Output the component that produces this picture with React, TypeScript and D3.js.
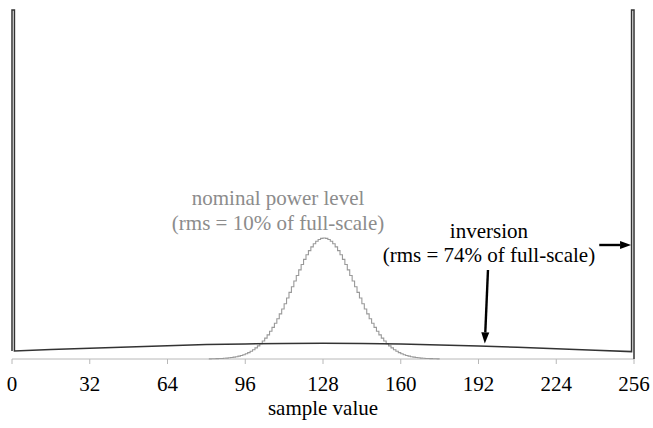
import React from "react";
import * as d3 from "d3";

// ---- data ----
const xTicks = [0, 32, 64, 96, 128, 160, 192, 224, 256];

// nominal power level histogram (rms = 10% of full-scale), bins 81..175
const nominalStart = 81;
const nominalCounts = [
  0.14, 0.19, 0.25, 0.33, 0.43, 0.55, 0.71, 0.91, 1.2, 1.5,
  1.9, 2.3, 2.9, 3.5, 4.3, 5.3, 6.4, 7.8, 9.3, 11.1,
  13.1, 15.4, 18.0, 20.9, 24.1, 27.7, 31.6, 35.8, 40.3, 45.1,
  50.0, 55.3, 61.0, 66.6, 72.2, 78.0, 83.5, 89.1, 94.5, 99.6,
  104.2, 108.4, 112.1, 115.2, 117.7, 119.5, 120.6, 121.0,
  120.6, 119.5, 117.7, 115.2, 112.1, 108.4, 104.2, 99.6, 94.5, 89.1,
  83.5, 78.0, 72.2, 66.6, 61.0, 55.3, 50.0, 45.1, 40.3, 35.8,
  31.6, 27.7, 24.1, 20.9, 18.0, 15.4, 13.1, 11.1, 9.3, 7.8,
  6.4, 5.3, 4.3, 3.5, 2.9, 2.3, 1.9, 1.5, 1.2, 0.91,
  0.71, 0.55, 0.43, 0.33, 0.25, 0.19, 0.14,
];

// inversion (rms = 74% of full-scale): broad body + clipped spikes at the ends
const inversionSamples = [1, 16, 32, 48, 64, 80, 96, 112, 128, 144, 160, 176, 192, 208, 224, 240, 255];
const inversionCounts = [8.0, 9.4, 10.8, 12.1, 13.3, 14.4, 15.1, 15.6, 15.8, 15.6, 15.0, 14.1, 13.0, 11.8, 10.2, 8.7, 7.4];
const spikeCount = 349;

const labelNominal = ["nominal power level", "(rms = 10% of full-scale)"];
const labelInversion = ["inversion", "(rms = 74% of full-scale)"];
const xAxisTitle = "sample value";

const FONT = "'Liberation Serif', 'Times New Roman', 'DejaVu Serif', serif";

export default function App() {
  const W = 653, H = 428;
  const x = d3.scaleLinear().domain([0, 256]).range([12, 634]);
  const y = d3.scaleLinear().domain([0, 349]).range([359, 10]);

  const nomPts: [number, number][] = nominalCounts.map((c, i) => [nominalStart + i, c]);
  nomPts.push([nominalStart + nominalCounts.length, nominalCounts[nominalCounts.length - 1]]);
  const nomLine = d3
    .line<[number, number]>()
    .x((d) => x(d[0]))
    .y((d) => y(d[1]))
    .curve(d3.curveStepAfter);

  const invPts: [number, number][] = [
    [0, inversionCounts[0]],
    [0, spikeCount],
    [1, spikeCount],
    ...inversionSamples.map((s, i) => [s, inversionCounts[i]] as [number, number]),
    [255, spikeCount],
    [256, spikeCount],
    [256, 0],
  ];
  const invLine = d3
    .line<[number, number]>()
    .x((d) => x(d[0]))
    .y((d) => y(d[1]));

  const arrows = [
    { from: [195.9, 89], to: [194.6, 15.6] },
    { from: [241.7, 114], to: [254.8, 114] },
  ];

  const arrowEls = arrows.map((a, i) => {
    const x1 = x(a.from[0]), y1 = y(a.from[1]);
    const x2 = x(a.to[0]), y2 = y(a.to[1]);
    const ang = Math.atan2(y2 - y1, x2 - x1);
    const L = 11, hw = 4;
    const bx = x2 - L * Math.cos(ang), by = y2 - L * Math.sin(ang);
    const px = -Math.sin(ang) * hw, py = Math.cos(ang) * hw;
    return (
      <g key={i}>
        <line x1={x1} y1={y1} x2={bx} y2={by} stroke="#000" strokeWidth={2.4} />
        <polygon
          points={`${x2},${y2} ${bx + px},${by + py} ${bx - px},${by - py}`}
          fill="#000"
        />
      </g>
    );
  });

  const ts = { fontFamily: FONT, fontSize: 21 } as React.CSSProperties;

  return (
    <svg
      width={W}
      height={H}
      style={{ position: "absolute", left: 0, top: 0, background: "#fff" }}
    >
      <line x1={x(0)} x2={x(256)} y1={y(0)} y2={y(0)} stroke="#b8b8b8" strokeWidth={1} />
      {xTicks.map((t) => (
        <g key={t}>
          <line x1={x(t)} x2={x(t)} y1={y(0)} y2={y(0) + 5} stroke="#b8b8b8" strokeWidth={1} />
          <text x={x(t)} y={390.5} textAnchor="middle" style={ts} fill="#000">
            {t}
          </text>
        </g>
      ))}
      <text x={x(128)} y={415} textAnchor="middle" style={ts} fill="#000">
        {xAxisTitle}
      </text>

      <path d={nomLine(nomPts) || ""} fill="none" stroke="#999" strokeWidth={1.1} />
      <path d={invLine(invPts) || ""} fill="none" stroke="#333" strokeWidth={1.5} />

      <text x={x(109.5)} y={y(154)} textAnchor="middle" style={ts} fill="#8c8c8c">
        {labelNominal[0]}
      </text>
      <text x={x(109.5)} y={y(129.5)} textAnchor="middle" style={ts} fill="#8c8c8c">
        {labelNominal[1]}
      </text>
      <text x={x(196.3)} y={y(121)} textAnchor="middle" style={ts} fill="#000">
        {labelInversion[0]}
      </text>
      <text x={x(196.3)} y={y(97)} textAnchor="middle" style={ts} fill="#000">
        {labelInversion[1]}
      </text>
      {arrowEls}
    </svg>
  );
}
